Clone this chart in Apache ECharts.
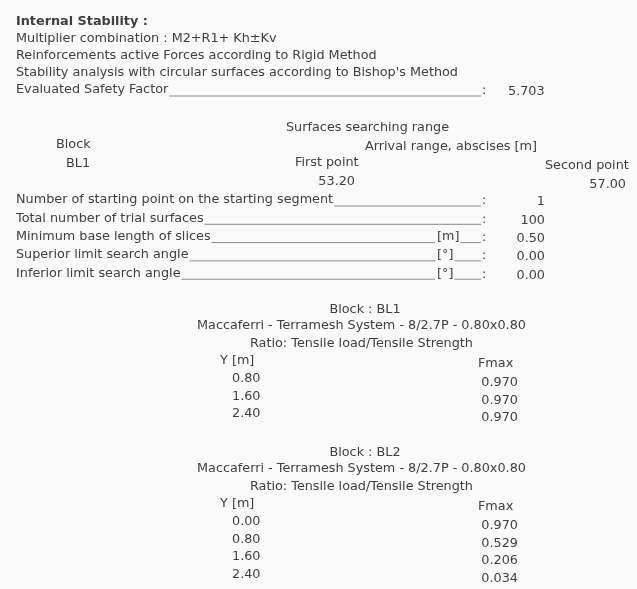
<!DOCTYPE html>
<html>
<head>
<meta charset="utf-8">
<script src="https://cdn.jsdelivr.net/npm/echarts@6/dist/echarts.min.js"></script>
<style>
  html, body { margin: 0; padding: 0; background: #fafafa; }
  #report { width: 637px; height: 589px; }
</style>
</head>
<body>
<div id="report"></div>
<script>
// header texts
var titleText = 'Internal Stability :';
var headerLines = [
	'Multiplier combination : M2+R1+ Kh\u00b1Kv',
	'Reinforcements active Forces according to Rigid Method',
	"Stability analysis with circular surfaces according to Bishop's Method"
];
var safetyLabel = 'Evaluated Safety Factor';
var safetyFactor = '5.703';

// surfaces searching range
var blockName = 'BL1';
var firstPoint = '53.20';
var secondPoint = '57.00';

var searchLabels = [
	'Number of starting point on the starting segment',
	'Total number of trial surfaces',
	'Minimum base length of slices',
	'Superior limit search angle',
	'Inferior limit search angle'
];
var searchUnits = ['', '', '[m]', '[\u00b0]', '[\u00b0]'];
var searchValues = ['1', '100', '0.50', '0.00', '0.00'];

// reinforcement blocks
var blocks = ['BL1', 'BL2'];
var productName = 'Maccaferri - Terramesh System - 8/2.7P - 0.80x0.80';
var ratioTitle = 'Ratio: Tensile load/Tensile Strength';
var bl1Y = ['0.80', '1.60', '2.40'];
var bl1Fmax = ['0.970', '0.970', '0.970'];
var bl2Y = ['0.00', '0.80', '1.60', '2.40'];
var bl2Fmax = ['0.970', '0.529', '0.206', '0.034'];

var FONT = '12.8px "DejaVu Sans"';
var BOLD = 'bold 12.8px "DejaVu Sans"';
var INK = '#404040';

var measureCtx = document.createElement('canvas').getContext('2d');
function textWidth(s, font) {
	measureCtx.font = font || FONT;
	return measureCtx.measureText(s).width;
}

var els = [];
function txt(x, y, s, align, font) {
	els.push({
		type: 'text',
		silent: true,
		style: {
			x: x, y: y, text: s,
			font: font || FONT,
			fill: INK,
			textAlign: align || 'left',
			textVerticalAlign: 'middle'
		}
	});
}
function rule(x1, x2, y) {
	els.push({
		type: 'line',
		silent: true,
		shape: { x1: x1, y1: y, x2: x2, y2: y },
		style: { stroke: '#8a8a8a', lineWidth: 1 }
	});
}
// label____:  (optional unit in between)
function dottedRow(x, y, label, unit) {
	var start = x + textWidth(label) + 1;
	txt(x, y, label);
	if (unit) {
		rule(start, 435, y + 6);
		txt(437, y, unit);
		rule(437 + textWidth(unit) + 1, 481, y + 6);
	} else {
		rule(start, 481, y + 6);
	}
	txt(482, y + 1, ':');
}

// header
txt(16, 22, titleText, 'left', BOLD);
for (var i = 0; i < headerLines.length; i++) {
	txt(16, 39 + i * 17, headerLines[i]);
}
dottedRow(16, 90, safetyLabel, '');
txt(508, 92, safetyFactor);

// surfaces searching range
txt(286, 128, 'Surfaces searching range');
txt(56, 145, 'Block');
txt(365, 147, 'Arrival range, abscises [m]');
txt(66, 164, blockName);
txt(295, 163, 'First point');
txt(545, 166, 'Second point');
txt(355, 182, firstPoint, 'right');
txt(626, 185, secondPoint, 'right');

for (var j = 0; j < searchLabels.length; j++) {
	var yy = 200 + j * 18.3;
	dottedRow(16, yy, searchLabels[j], searchUnits[j]);
	txt(545, yy + 2, searchValues[j], 'right');
}

// block tables
function blockTable(top, name, ys, fmax) {
	txt(365, top, 'Block : ' + name, 'center');
	txt(197, top + 16, productName);
	txt(250, top + 34, ratioTitle);
	txt(220, top + 51, 'Y [m]');
	txt(478, top + 54, 'Fmax');
	for (var k = 0; k < ys.length; k++) {
		txt(232, top + 69 + k * 17.5, ys[k]);
		txt(518, top + 73 + k * 17.5, fmax[k], 'right');
	}
}
blockTable(310, blocks[0], bl1Y, bl1Fmax);
blockTable(453, blocks[1], bl2Y, bl2Fmax);

var chart = echarts.init(document.getElementById('report'), null, { renderer: 'canvas' });
chart.setOption({
	backgroundColor: '#fafafa',
	animation: false,
	graphic: { elements: els }
});
</script>
</body>
</html>
